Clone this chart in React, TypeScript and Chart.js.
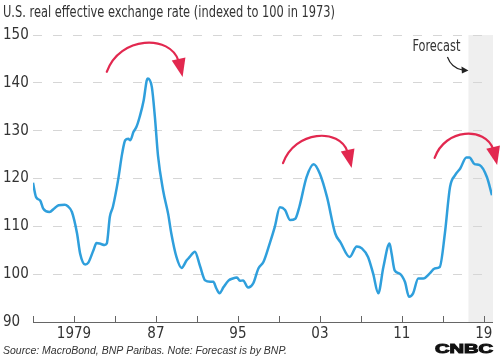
import React, { useEffect, useRef } from "react";
import { Chart, registerables } from "chart.js";

Chart.register(...registerables);

// ---- Data ----
const YEARS = [
  1975.0, 1975.3, 1975.7, 1976.0, 1976.6, 1977.1, 1977.5, 1978.1, 1978.4, 1978.8,
  1979.3, 1979.6, 1980.1, 1980.4, 1980.9, 1981.2, 1981.5, 1982.0, 1982.2, 1982.5,
  1982.8, 1983.3, 1983.7, 1984.0, 1984.3, 1984.5, 1984.8, 1985.1, 1985.4, 1985.8,
  1986.1, 1986.2, 1986.6, 1986.9, 1987.2, 1987.7, 1988.2, 1988.5, 1989.0, 1989.5,
  1990.0, 1990.3, 1990.8, 1991.3, 1991.8, 1992.3, 1992.6, 1992.9, 1993.2, 1993.6,
  1994.1, 1994.5, 1994.9, 1995.2, 1995.5, 1996.0, 1996.5, 1997.0, 1997.5, 1998.1,
  1998.6, 1999.1, 1999.6, 2000.1, 2000.6, 2001.0, 2001.7, 2002.4, 2003.0, 2003.7,
  2004.5, 2005.0, 2005.9, 2006.6, 2007.1, 2007.7, 2008.2, 2008.7, 2009.2, 2009.8,
  2010.0, 2010.3, 2010.8, 2011.3, 2011.7, 2012.1, 2012.6, 2013.1, 2013.7, 2014.2,
  2014.7, 2015.2, 2015.7, 2016.2, 2016.7, 2017.3, 2017.6, 2018.1, 2018.6, 2019.3,
  2019.8,
];
const VALUES = [
  119.1, 116.1, 115.4, 113.7, 113.0, 113.8, 114.4, 114.5, 114.2, 113.0,
  108.5, 104.3, 102.0, 102.4, 105.0, 106.5, 106.4, 106.1, 106.4, 112.0,
  114.1, 119.6, 125.2, 128.0, 128.3, 128.0, 129.7, 130.8, 132.8, 136.3,
  140.5, 140.9, 139.1, 132.8, 124.8, 117.5, 112.5, 108.5, 103.6, 101.3,
  102.9, 103.6, 104.7, 101.7, 98.7, 98.4, 98.4, 97.0, 96.0, 97.3,
  98.7, 99.1, 99.3, 98.6, 98.7, 97.2, 98.1, 101.2, 102.6, 106.4,
  109.9, 114.0, 113.4, 111.3, 111.6, 114.1, 120.3, 123.0, 121.0, 116.1,
  108.5, 106.7, 103.6, 105.8, 105.4, 103.6, 100.1, 96.0, 101.5, 106.4,
  104.3, 100.8, 100.1, 98.4, 95.3, 96.0, 99.1, 99.1, 100.1, 101.2,
  101.5, 108.5, 118.2, 120.7, 122.1, 124.4, 124.4, 123.0, 122.8, 120.3,
  116.5,
];
const TICK_YEARS = [1975, 1979, 1983, 1987, 1991, 1995, 1999, 2003, 2007, 2011, 2015, 2019];
const TICK_LABELS = ["", "1979", "", "87", "", "95", "", "03", "", "11", "", "19"];
const X_MIN = 1975;
const X_MAX = 2019.8;
const Y_MIN = 90;
const Y_MAX = 150;
const Y_STEP = 10;
const FORECAST_START = 2017.5;
const FORECAST_END = 2019.9;
// curved annotation arrows: start point and arrow tip (year, index value)
const ARROW_STARTS = [[1982.2, 142.3], [1999.4, 123.2], [2014.2, 124.3]];
const ARROW_TIPS = [[1989.6, 141.2], [2006.1, 122.2], [2020.3, 122.8]];

const TITLE = "U.S. real effective exchange rate (indexed to 100 in 1973)";
const SOURCE = "Source: MacroBond, BNP Paribas. Note: Forecast is by BNP.";
const FORECAST_LABEL = "Forecast";
const LOGO = "CNBC";

const NARROW = "'Liberation Sans Narrow', 'DejaVu Sans Condensed', 'Arial Narrow', sans-serif";
const TEXT = "#333333";
const LINE_BLUE = "#2f9fdc";
const ARROW_RED = "#e2284f";

function fitText(ctx: CanvasRenderingContext2D, text: string, x: number, y: number, width: number) {
  const w = ctx.measureText(text).width;
  const sx = width / w;
  ctx.save();
  ctx.translate(x, y);
  ctx.scale(sx, 1);
  ctx.fillText(text, 0, 0);
  ctx.restore();
}

function drawCurvedArrow(ctx: CanvasRenderingContext2D, sx: number, sy: number, tx: number, ty: number) {
  const dx = tx - sx;
  const ex = tx - 4;
  const ey = ty - 18;
  const lift = 0.48 * dx;
  const c1x = sx + 0.17 * dx;
  const c1y = sy - lift;
  const c2x = ex - 8;
  const c2y = ey - 0.68 * lift;
  ctx.save();
  ctx.strokeStyle = ARROW_RED;
  ctx.fillStyle = ARROW_RED;
  ctx.lineWidth = 2.2;
  ctx.lineCap = "round";
  ctx.beginPath();
  ctx.moveTo(sx, sy);
  ctx.bezierCurveTo(c1x, c1y, c2x, c2y, ex, ey + 2);
  ctx.stroke();
  const len = Math.hypot(tx - ex, ty - ey);
  const ux = (tx - ex) / len;
  const uy = (ty - ey) / len;
  const px = -uy;
  const py = ux;
  ctx.beginPath();
  ctx.moveTo(tx, ty);
  ctx.lineTo(ex + px * 7, ey + py * 7);
  ctx.lineTo(ex - px * 7, ey - py * 7);
  ctx.closePath();
  ctx.fill();
  ctx.restore();
}

const decorPlugin = {
  id: "decor",
  beforeDraw(chart: any) {
    const { ctx, chartArea, scales } = chart;
    const x = scales.x;
    ctx.save();
    ctx.fillStyle = "#ffffff";
    ctx.fillRect(0, 0, chart.width, chart.height);
    const x0 = x.getPixelForValue(FORECAST_START);
    const x1 = x.getPixelForValue(FORECAST_END);
    ctx.fillStyle = "#efefef";
    ctx.fillRect(x0, chartArea.top, x1 - x0, chartArea.bottom - chartArea.top);
    ctx.restore();
  },
  afterDraw(chart: any) {
    const { ctx, chartArea, scales } = chart;
    const x = scales.x;
    const y = scales.y;
    ctx.save();
    // upward tick marks on the x axis
    ctx.strokeStyle = "#666666";
    ctx.lineWidth = 1;
    TICK_YEARS.forEach((yr) => {
      const px = Math.round(x.getPixelForValue(yr)) + 0.5;
      ctx.beginPath();
      ctx.moveTo(px, chartArea.bottom);
      ctx.lineTo(px, chartArea.bottom - 6);
      ctx.stroke();
    });

    // title
    ctx.fillStyle = TEXT;
    ctx.textBaseline = "middle";
    ctx.textAlign = "left";
    ctx.font = `15px ${NARROW}`;
    fitText(ctx, TITLE, 3, 13, 332);

    // footer source
    ctx.font = "italic 11px 'Liberation Sans', Arial, sans-serif";
    fitText(ctx, SOURCE, 3, 351, 284);

    // logo
    ctx.fillStyle = "#111111";
    ctx.strokeStyle = "#111111";
    ctx.font = "bold 12.5px 'Liberation Sans', Arial, sans-serif";
    {
      const w = ctx.measureText(LOGO).width;
      ctx.save();
      ctx.translate(435, 349.5);
      ctx.scale(58 / w, 1);
      ctx.lineWidth = 1;
      ctx.fillText(LOGO, 0, 0);
      ctx.strokeText(LOGO, 0, 0);
      ctx.restore();
    }

    // forecast label + small pointer arrow
    const fx = x.getPixelForValue(FORECAST_START);
    ctx.fillStyle = TEXT;
    ctx.font = `15px ${NARROW}`;
    fitText(ctx, FORECAST_LABEL, fx - 56, chartArea.top + 12, 48);
    ctx.strokeStyle = "#222222";
    ctx.fillStyle = "#222222";
    ctx.lineWidth = 1.2;
    ctx.beginPath();
    ctx.moveTo(fx - 21, chartArea.top + 22);
    ctx.quadraticCurveTo(fx - 17, chartArea.top + 33, fx - 6, chartArea.top + 35);
    ctx.stroke();
    ctx.beginPath();
    ctx.moveTo(fx, chartArea.top + 35.5);
    ctx.lineTo(fx - 7, chartArea.top + 31.5);
    ctx.lineTo(fx - 6.5, chartArea.top + 38.5);
    ctx.closePath();
    ctx.fill();
    ctx.restore();

    // red curved arrows
    ARROW_STARTS.forEach((s, i) => {
      const t = ARROW_TIPS[i];
      drawCurvedArrow(
        ctx,
        x.getPixelForValue(s[0]),
        y.getPixelForValue(s[1]),
        x.getPixelForValue(t[0]),
        y.getPixelForValue(t[1])
      );
    });
  },
};

export default function App() {
  const canvasRef = useRef<HTMLCanvasElement | null>(null);

  useEffect(() => {
    const canvas = canvasRef.current;
    if (!canvas) return;
    const points = YEARS.map((yr, i) => ({ x: yr, y: VALUES[i] }));
    const chart = new Chart(canvas, {
      type: "line",
      data: {
        datasets: [
          {
            data: points,
            borderColor: LINE_BLUE,
            borderWidth: 2.5,
            pointRadius: 0,
            cubicInterpolationMode: "monotone",
            fill: false,
          },
        ],
      },
      options: {
        animation: false,
        responsive: false,
        devicePixelRatio: 1,
        layout: { padding: { top: 35, right: 8, bottom: 18, left: 3 } },
        plugins: {
          legend: { display: false },
          tooltip: { enabled: false },
          title: { display: false },
        },
        scales: {
          x: {
            type: "linear",
            min: X_MIN,
            max: X_MAX,
            afterBuildTicks: (scale: any) => {
              scale.ticks = TICK_YEARS.map((v) => ({ value: v }));
            },
            afterFit: (scale: any) => {
              scale.height = 20;
            },
            ticks: {
              autoSkip: false,
              maxRotation: 0,
              padding: 3,
              color: TEXT,
              font: { family: NARROW, size: 15 },
              callback: (v: any) => {
                const i = TICK_YEARS.indexOf(Number(v));
                return i >= 0 ? TICK_LABELS[i] : "";
              },
            },
            grid: { display: false, drawTicks: false },
            border: { display: true, color: "#666666", width: 1 },
          },
          y: {
            min: Y_MIN,
            max: Y_MAX,
            afterFit: (scale: any) => {
              scale.width = 30;
            },
            ticks: {
              stepSize: Y_STEP,
              crossAlign: "far",
              color: TEXT,
              font: { family: NARROW, size: 15 },
            },
            grid: {
              drawTicks: false,
              color: (c: any) => (c.tick && c.tick.value === Y_MIN ? "rgba(0,0,0,0)" : "#d6d6d6"),
              lineWidth: 1,
            },
            border: { display: false, dash: [9, 11] },
          },
        },
      },
      plugins: [decorPlugin],
    });
    return () => chart.destroy();
  }, []);

  return (
    <div style={{ position: "fixed", left: 0, top: 0, width: 500, height: 360, background: "#fff" }}>
      <canvas ref={canvasRef} width={500} height={360} style={{ width: 500, height: 360, display: "block" }} />
    </div>
  );
}
